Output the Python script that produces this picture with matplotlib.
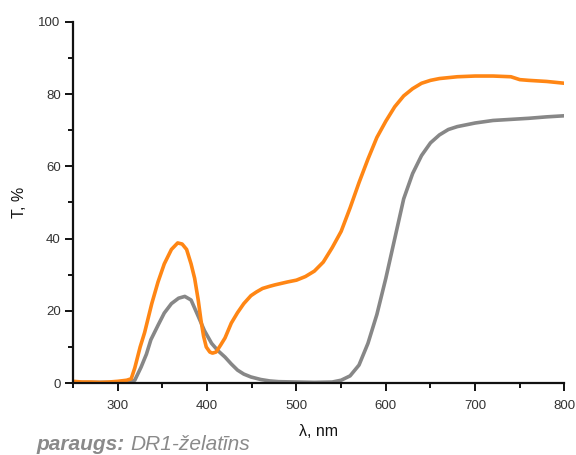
import matplotlib
matplotlib.use("Agg")
import matplotlib.pyplot as plt
from matplotlib.ticker import MultipleLocator

plt.rcParams['font.family'] = ['Liberation Sans', 'DejaVu Sans']

# Transmission spectra, wavelength in nm, T in %
wl_orange = [250, 260, 270, 280, 290, 300, 310, 315, 319, 325, 330, 338, 345, 352,
             360, 367, 372, 377, 382, 386, 390, 393, 396, 399, 403, 406, 410, 415,
             420, 427, 434, 441, 449, 455, 462, 470, 476, 483, 490, 500, 510, 520,
             530, 540, 550, 560, 570, 580, 590, 600, 610, 620, 630, 640, 650, 660,
             680, 700, 720, 740, 750, 760, 780, 800]
t_orange = [0.5, 0.3, 0.3, 0.2, 0.3, 0.5, 0.8, 1.2, 4.2, 10, 14, 22, 28, 33,
            37, 38.8, 38.5, 37, 33, 29, 23, 17.5, 13, 10, 8.6, 8.3, 8.6, 10.5,
            12.5, 16.6, 19.5, 22, 24.2, 25.2, 26.2, 26.8, 27.2, 27.6, 28, 28.5, 29.5, 31,
            33.5, 37.5, 42, 48.5, 55.5, 62, 68, 72.5, 76.5, 79.5, 81.5, 83, 83.8, 84.3,
            84.8, 85, 85, 84.8, 84, 83.8, 83.5, 83]

wl_grey = [250, 270, 290, 310, 319, 326, 332, 337, 345, 352, 360, 368, 375, 382,
           390, 397, 405, 412, 420, 427, 434, 441, 449, 460, 470, 480, 500, 520,
           540, 550, 560, 570, 580, 590, 600, 610, 620, 630, 640, 650, 660, 670,
           680, 700, 720, 740, 760, 780, 800]
t_grey = [0.2, 0.2, 0.2, 0.2, 0.8, 4.4, 8, 12, 16, 19.4, 22, 23.5, 24, 23,
          18.5, 14.5, 11, 9, 7.2, 5.3, 3.6, 2.5, 1.7, 1.0, 0.6, 0.4, 0.3, 0.2,
          0.3, 0.8, 2, 5, 11, 19, 29, 40, 51, 58, 63, 66.5, 68.7, 70.2,
          71, 72, 72.7, 73, 73.3, 73.7, 74]

x_ticks = [300, 400, 500, 600, 700, 800]
y_ticks = [0, 20, 40, 60, 80, 100]

fig = plt.figure(figsize=(5.76, 4.55), dpi=100)
ax = fig.add_axes([0.127, 0.158, 0.853, 0.794])

ax.plot(wl_grey, t_grey, color='#878787', lw=2.6, solid_joinstyle='round',
        solid_capstyle='round')
ax.plot(wl_orange, t_orange, color='#FF8614', lw=2.6, solid_joinstyle='round',
        solid_capstyle='round')

ax.set_xlim(250, 800)
ax.set_ylim(0, 100)
ax.set_xticks(x_ticks)
ax.set_yticks(y_ticks)
ax.xaxis.set_minor_locator(MultipleLocator(50))
ax.yaxis.set_minor_locator(MultipleLocator(10))

for side in ('top', 'right'):
    ax.spines[side].set_visible(False)
for side in ('left', 'bottom'):
    ax.spines[side].set_linewidth(1.6)
    ax.spines[side].set_color('#111111')

ax.tick_params(which='major', direction='out', length=6, width=1.4,
               labelsize=9.5, labelcolor='#333333', color='#111111')
ax.tick_params(axis='x', which='major', pad=6)
ax.tick_params(axis='y', which='major', pad=3)
ax.tick_params(which='minor', direction='out', length=3.5, width=1.4,
               color='#111111')

ax.set_xlabel('λ, nm', fontsize=11.5, labelpad=9, color='#111111')
ax.set_ylabel('T, %', fontsize=11.5, labelpad=8, color='#111111')

cap = fig.text(0.064, 0.011, 'paraugs:', fontsize=15, fontstyle='italic',
               fontweight='bold', color='#8a8a8a')
fig.canvas.draw()
ax.annotate('DR1-želatīns', xy=(1, 0), xycoords=cap, xytext=(4, 0),
            textcoords='offset points', fontsize=15, fontstyle='italic',
            color='#8a8a8a', va='bottom', ha='left', annotation_clip=False)

fig.savefig('out.png', dpi=100)
